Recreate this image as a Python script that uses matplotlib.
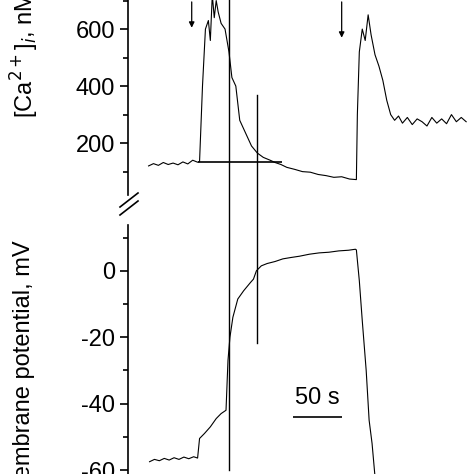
import matplotlib
matplotlib.use('Agg')
import matplotlib.pyplot as plt
from matplotlib.lines import Line2D

plt.rcParams['font.family'] = ['Liberation Sans', 'DejaVu Sans']
plt.rcParams['axes.unicode_minus'] = False

# time in s
ca_t = [21, 26, 31, 36, 41, 46, 51, 56, 61, 66, 71, 73, 76, 79, 82, 84, 86, 88, 90, 92,
        95, 99, 103, 106, 110, 114, 118, 122, 126, 132, 138, 145, 150, 156, 162, 170,
        178, 186, 194, 202, 210, 218, 226, 233, 234, 236, 239, 242, 245, 248, 252, 256,
        260, 264, 268, 272, 276, 280, 285, 290, 295, 300, 305, 310, 315, 320, 325, 330,
        335, 340, 345]
ca_nM = [120, 128, 122, 132, 125, 130, 124, 134, 127, 140, 133, 135, 400, 600, 630, 560,
         720, 640, 700, 660, 620, 600, 520, 430, 400, 280, 250, 220, 190, 165, 150, 140,
         132, 125, 115, 108, 100, 98, 90, 86, 80, 82, 74, 72, 300, 520, 600, 560, 650, 580,
         510, 470, 420, 350, 300, 280, 295, 270, 290, 265, 285, 275, 260, 290, 270, 285,
         268, 300, 275, 290, 275]

vm_t = [22, 27, 32, 37, 42, 47, 52, 57, 62, 67, 71, 73, 78, 84, 90, 95, 100, 102, 104,
        107, 112, 118, 125, 128, 131, 136, 142, 150, 158, 166, 175, 185, 195, 205, 215,
        225, 232, 233, 236, 239, 243, 246, 249, 252]
vm_mV = [-57.5, -56.8, -57.2, -56.5, -57.0, -56.3, -56.8, -56.1, -56.6, -56.0, -56.4,
         -50.5, -49.0, -47.0, -44.5, -43.0, -42.0, -27.0, -20.0, -14.0, -8.5, -6.0, -3.5,
         -2.5, 0.0, 1.5, 2.2, 2.8, 3.6, 4.0, 4.4, 5.0, 5.4, 5.6, 6.0, 6.2, 6.5, 6.3, -3.0,
         -15.0, -30.0, -45.0, -52.0, -62.0]

ca_ticks = [200, 400, 600]
vm_ticks = [0, -20, -40, -60]

W = 474.0
fig = plt.figure(figsize=(4.74, 4.74), dpi=100)
ax1 = fig.add_axes([128 / W, 1 - 195 / W, 346 / W, 195 / W])
ax2 = fig.add_axes([128 / W, 0, 346 / W, 249 / W])

for ax in (ax1, ax2):
    for s in ('top', 'right', 'bottom'):
        ax.spines[s].set_visible(False)
    ax.spines['left'].set_linewidth(1.2)
    ax.set_xticks([])
    ax.set_xlim(0, 353)
    ax.tick_params(axis='y', labelsize=17, length=6, width=1.2)
    ax.tick_params(axis='y', which='minor', length=3.5, width=1.2)

ax1.plot(ca_t, ca_nM, color='black', lw=0.8)
ax1.set_ylim(18, 702)
ax1.set_yticks(ca_ticks)
ax1.set_yticks([100, 300, 500, 700], minor=True)
ax1.set_ylabel('[Ca$^{2+}$]$_i$, nM', fontsize=17)
ax1.yaxis.set_label_coords(-0.25, 0.72)
ax1.hlines(133, 71, 157, color='black', lw=1.2)
ax1.annotate('', xy=(65, 595), xytext=(65, 705),
             arrowprops=dict(arrowstyle='-|>', color='black', lw=0.9, mutation_scale=8))
ax1.annotate('', xy=(218, 560), xytext=(218, 705),
             arrowprops=dict(arrowstyle='-|>', color='black', lw=0.9, mutation_scale=8))

ax2.plot(vm_t, vm_mV, color='black', lw=0.8)
ax2.set_ylim(-61.2, 13.8)
ax2.set_yticks(vm_ticks)
ax2.set_yticks([10, -10, -30, -50], minor=True)
ax2.set_ylabel('Membrane potential, mV', fontsize=17)
ax2.yaxis.set_label_coords(-0.27, 0.42)
ax2.hlines(-44.0, 168, 218, color='black', lw=1.2)
ax2.text(193, -41.5, '50 s', fontsize=17, ha='center', va='bottom')

# vertical marker lines across both panels and break marks (figure pixels)
def px(x, y):
    return x / W, 1 - y / W

for (x0, y0), (x1, y1) in [((229, 0), (229, 470)), ((257, 95), (257, 343))]:
    a, b = px(x0, y0)
    c, d = px(x1, y1)
    fig.add_artist(Line2D([a, c], [b, d], color='black', lw=1.0))
for dy in (0, 8):
    a, b = px(120, 207 + dy)
    c, d = px(138, 193 + dy)
    fig.add_artist(Line2D([a, c], [b, d], color='black', lw=1.2))

fig.savefig('out.png', dpi=100)
